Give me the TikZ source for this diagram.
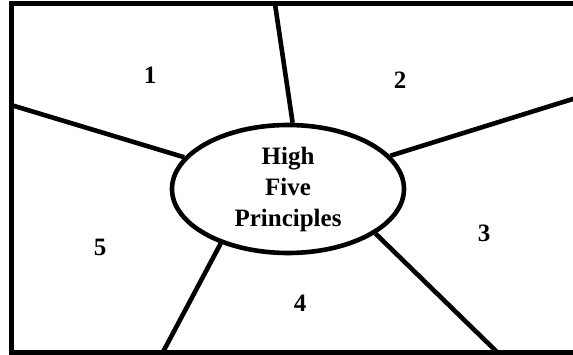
\documentclass[tikz,border=0pt]{standalone}
\usepackage{fontspec}
\setmainfont{Liberation Serif}
\usetikzlibrary{shapes.geometric}
\usetikzlibrary{positioning}

\begin{document}
\begin{tikzpicture}
	 [x=1pt, y=-1pt,
	every node/.style={font=\fontsize{25}{31}\selectfont\bfseries},
	frame/.style = {line width=5pt},
	spoke/.style = {line width=4.6pt},
	hub/.style = {draw, ellipse, line width=4.6pt, inner sep=0pt, align=center,
		minimum width=232pt, minimum height=128pt}
	]
	\useasboundingbox (0,0) rectangle (573,355);

	\coordinate (b1) at (275,4);
	\coordinate (b2) at (576,98);
	\coordinate (b3) at (497,352);
	\coordinate (b4) at (163,352);
	\coordinate (b5) at (11,105);

	\draw[frame] (11,4) rectangle (576,352);

	\node[hub] (core) at (288,189) {High\\Five\\Principles};

	\draw[spoke] (core.86) -- (b1);
	\draw[spoke] (core.18) -- (b2);
	\draw[spoke] (core.-27) -- (b3);
	\draw[spoke] (core.219) -- (b4);
	\draw[spoke] (core.163) -- (b5);

	\node (n1) at (150,75) {1};
	\node (n2) at (400,80) {2};
	\node (n3) at (484,233) {3};
	\node (n4) at (300,303) {4};
	\node (n5) at (100,247) {5};
\end{tikzpicture}
\end{document}
